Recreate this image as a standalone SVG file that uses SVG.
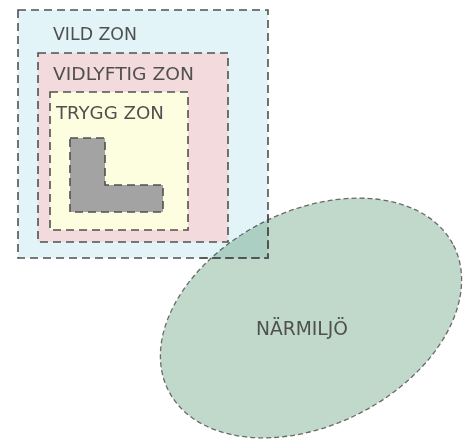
<svg xmlns="http://www.w3.org/2000/svg" width="467" height="440" viewBox="0 0 467 440">
<style>
.zone{stroke:#505050;stroke-width:1.6;stroke-dasharray:8 5}
.lbl{font-family:"DejaVu Sans Condensed","DejaVu Sans","Liberation Sans",sans-serif;font-size:18px;fill:#505050}
</style>
<rect width="467" height="440" fill="#ffffff"/>
<g id="vild-zon">
<rect x="18" y="10" width="250" height="248" class="zone" fill="#e3f4f8"/>
<text class="lbl" x="53" y="40" textLength="84" lengthAdjust="spacingAndGlyphs">VILD ZON</text>
</g>
<g id="vidlyftig-zon">
<rect x="38" y="53" width="190" height="189" class="zone" fill="#f3dbdd"/>
<text class="lbl" x="53" y="80" textLength="141" lengthAdjust="spacingAndGlyphs">VIDLYFTIG ZON</text>
</g>
<g id="trygg-zon">
<rect x="50" y="92" width="138" height="138" class="zone" fill="#fdfde0"/>
<text class="lbl" x="56" y="119" textLength="108" lengthAdjust="spacingAndGlyphs">TRYGG ZON</text>
</g>
<g id="hus">
<path d="M70 138 H105 V185 H163 V212 H70 Z" class="zone" fill="#a3a3a3"/>
</g>
<g id="narmiljo">
<ellipse cx="311" cy="318" rx="160" ry="107" transform="rotate(-27 311 318)" fill="#c1d9ca" style="mix-blend-mode:multiply" stroke="#6a6a6a" stroke-width="1.3" stroke-dasharray="5 3"/>
<text class="lbl" x="302" y="335" text-anchor="middle" textLength="92" lengthAdjust="spacingAndGlyphs" style="font-size:19px">NÄRMILJÖ</text>
</g>
<g id="vild-zon-edge">
<path d="M268 214 V258 H200" fill="none" class="zone"/>
</g>
</svg>
